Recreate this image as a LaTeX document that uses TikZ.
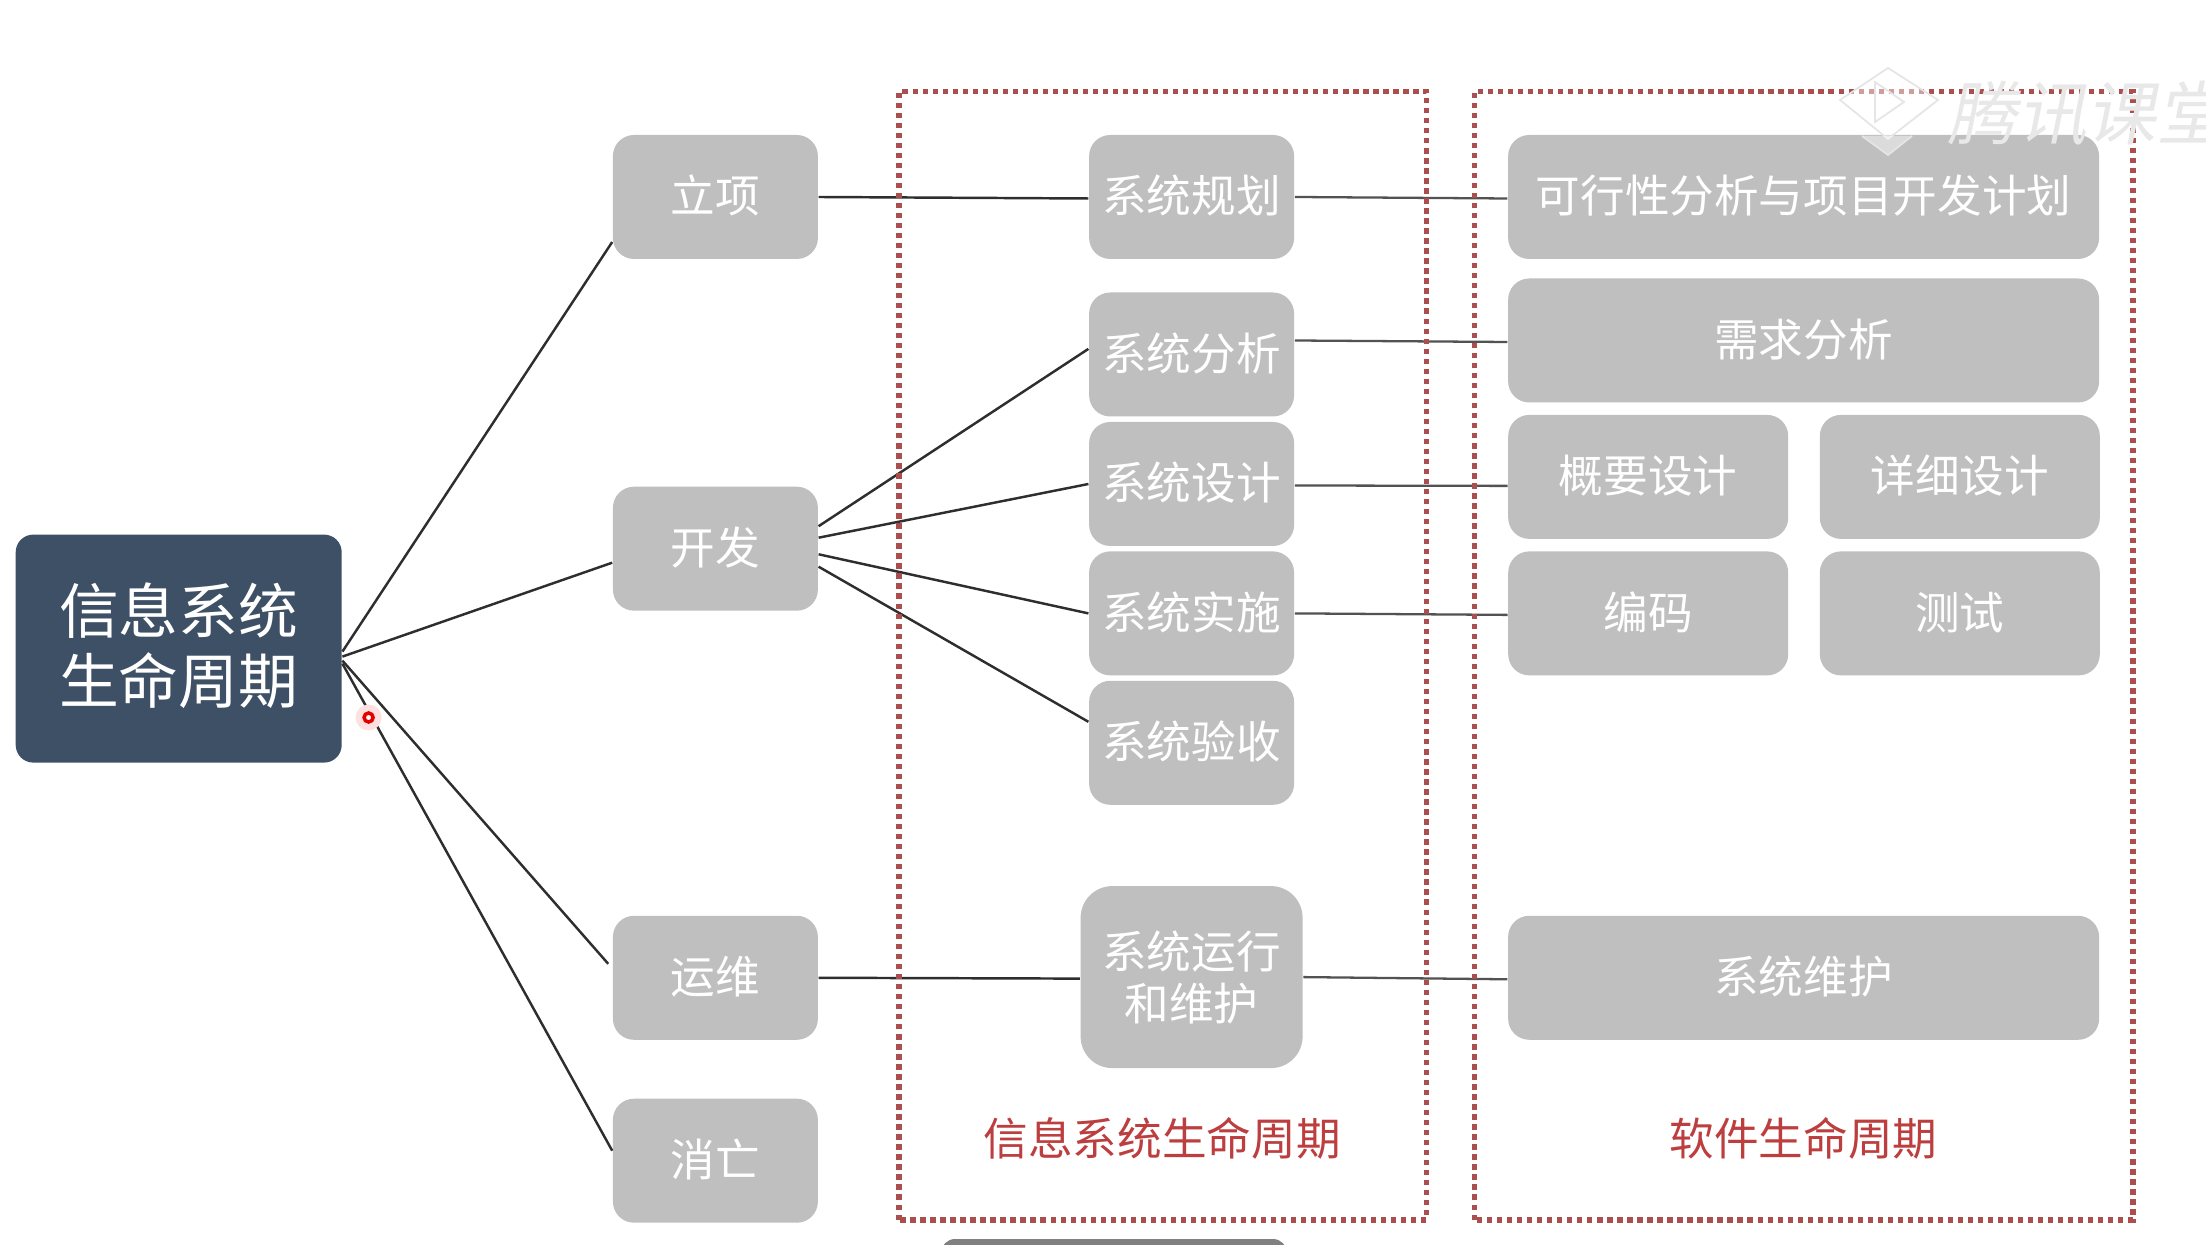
\documentclass[tikz,border=0pt]{standalone}
\usepackage{fontspec}
\setmainfont{Noto Sans CJK SC}
\newfontfamily\markfont[FakeSlant=0.2]{Noto Sans CJK SC}
\usetikzlibrary{positioning,calc}
\definecolor{rootblue}{RGB}{62,80,101}
\definecolor{boxgray}{RGB}{191,191,191}
\definecolor{framered}{RGB}{170,78,78}
\definecolor{labelred}{RGB}{188,62,62}

\begin{document}
\begin{tikzpicture}[
  x=1cm,y=1cm,
  rootbox/.style={fill=rootblue, rounded corners=5pt, minimum width=3.26cm, minimum height=2.28cm, inner sep=0pt, text=white, align=center, text depth=3.1pt, font=\fontsize{17}{19.9}\selectfont},
  stagebox/.style={fill=boxgray, rounded corners=6pt, minimum width=2.05cm, minimum height=1.24cm, inner sep=0pt, text=white, align=center, text height=10.8pt, text depth=1.9pt, font=\fontsize{12.7}{14.8}\selectfont},
  runbox/.style={stagebox, text height=, text depth=, minimum width=2.22cm, minimum height=1.82cm, rounded corners=9pt},
  widebox/.style={stagebox, minimum width=5.91cm},
  halfbox/.style={stagebox, minimum width=2.8cm},
  frame/.style={draw=framered, line width=1.6pt, dash pattern=on 1.5pt off 1.35pt},
  framelabel/.style={text=labelred, font=\fontsize{12.7}{15}\selectfont},
  branch/.style={draw=black!82, line width=0.7pt},
  mapline/.style={draw=black!68, line width=0.65pt}
]
  \useasboundingbox (0,0) rectangle (22.06,12.44);

  \node[rootbox] (root) at (1.787,5.954) {信息系统\\生命周期};

  \node[stagebox] (lixiang) at (7.154,10.47) {立项};
  \node[stagebox] (kaifa) at (7.154,6.953) {开发};
  \node[stagebox] (yunwei) at (7.154,2.662) {运维};
  \node[stagebox] (xiaowang) at (7.154,0.833) {消亡};

  \node[stagebox] (guihua) at (11.916,10.47) {系统规划};
  \node[stagebox] (fenxi) at (11.916,8.895) {系统分析};
  \node[stagebox] (sheji) at (11.916,7.6) {系统设计};
  \node[stagebox] (shishi) at (11.916,6.306) {系统实施};
  \node[stagebox] (yanshou) at (11.916,5.012) {系统验收};
  \node[runbox] (yunxing) at (11.916,2.669) {系统运行\\和维护};

  \node[widebox] (kexing) at (18.036,10.47) {可行性分析与项目开发计划};
  \node[widebox] (xuqiu) at (18.036,9.035) {需求分析};
  \node[halfbox] (gaiyao) at (16.482,7.671) {概要设计};
  \node[halfbox] (xiangxi) at (19.598,7.671) {详细设计};
  \node[halfbox] (bianma) at (16.482,6.306) {编码};
  \node[halfbox] (ceshi) at (19.598,6.306) {测试};
  \node[widebox] (weihu) at (18.036,2.662) {系统维护};

  \draw[branch] ([yshift=-0.03cm]root.east) -- ([yshift=-0.45cm]lixiang.west);
  \draw[branch] ([yshift=-0.08cm]root.east) -- ([yshift=-0.14cm]kaifa.west);
  \draw[branch] ([yshift=-0.12cm]root.east) -- ([xshift=-0.04cm,yshift=0.14cm]yunwei.west);
  \draw[branch] ([yshift=-0.15cm]root.east) -- ([yshift=0.1cm]xiaowang.west);

  \draw[branch] ([yshift=0.225cm]kaifa.east) -- ([yshift=0.056cm]fenxi.west);
  \draw[branch] ([yshift=0.11cm]kaifa.east) -- (sheji.west);
  \draw[branch] ([yshift=-0.056cm]kaifa.east) -- (shishi.west);
  \draw[branch] ([yshift=-0.18cm]kaifa.east) -- ([yshift=0.21cm]yanshou.west);

  \draw[branch] (lixiang.east) -- ([yshift=-0.015cm]guihua.west);
  \draw[branch] (yunwei.east) -- ([yshift=-0.015cm]yunxing.west);
  \draw[mapline] (guihua.east) -- ([yshift=-0.015cm]kexing.west);
  \draw[mapline] ([yshift=0.14cm]fenxi.east) -- ([yshift=-0.015cm]xuqiu.west);
  \draw[mapline] ([yshift=-0.015cm]sheji.east) -- ([yshift=-0.09cm]gaiyao.west);
  \draw[mapline] (shishi.east) -- ([yshift=-0.015cm]bianma.west);
  \draw[mapline] (yunxing.east) -- ([yshift=-0.015cm]weihu.west);

  \draw[frame] (8.99,0.242) rectangle (14.266,11.526);
  \draw[frame] (14.744,0.242) rectangle (21.329,11.526);
  \node[framelabel] (infolabel) at (11.621,1.058) {信息系统生命周期};
  \node[framelabel] (softlabel) at (18.036,1.058) {软件生命周期};

  \node[circle, fill=red!12, minimum size=0.26cm, inner sep=0pt] (glow) at (3.686,5.265) {};
  \node[circle, draw=red!90!black, fill=white, line width=1pt, minimum size=0.09cm, inner sep=0pt] (pointer) at (3.686,5.265) {};

  \fill[black!50, rounded corners=4pt] (9.41,-0.3) rectangle (12.87,0.05);

  \draw[black!10, fill=white, fill opacity=0.45, line width=0.5pt] (18.88,11.76) -- (19.38,11.44) -- (18.88,11.05) -- (18.40,11.44) -- cycle;
  \draw[black!10, fill=white, fill opacity=0.45, line width=0.5pt] (18.62,11.08) -- (18.88,10.89) -- (19.12,11.08);
  \draw[black!10, line width=0.5pt] (18.75,11.62) -- (19.04,11.42) -- (18.75,11.22) -- cycle;
  \node[anchor=west, inner sep=0pt, text=black!9, font=\markfont\fontsize{19.8}{22}\selectfont] (watermark) at (19.47,11.3) {腾讯课堂};
\end{tikzpicture}
\end{document}
